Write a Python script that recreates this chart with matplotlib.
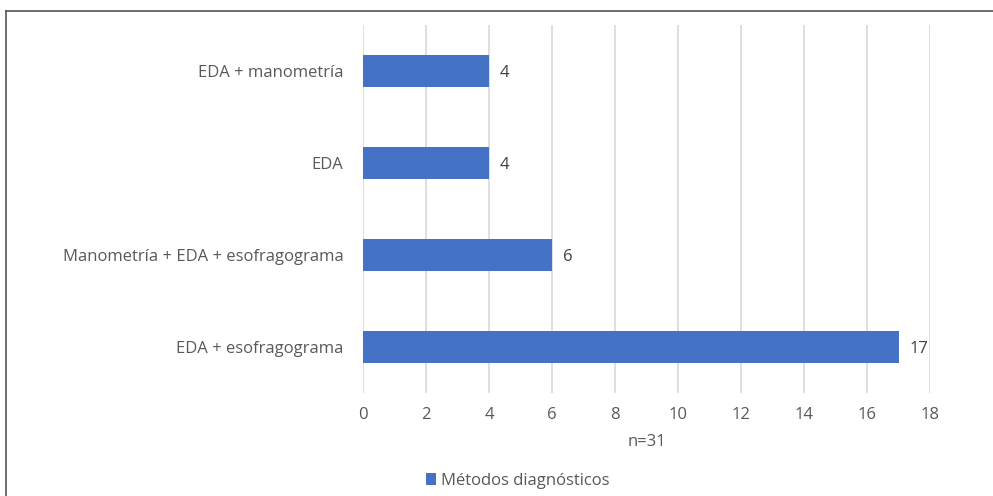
import matplotlib.pyplot as plt
from matplotlib.lines import Line2D

# diagnostic methods used (n=31)
metodos = ["EDA + esofragograma", "Manometría + EDA + esofragograma", "EDA", "EDA + manometría"]
pacientes = [17, 6, 4, 4]
xticks = list(range(0, 20, 2))

plt.rcParams['font.family'] = ['Open Sans', 'DejaVu Sans']
gris = '#595959'
fs = 12

fig = plt.figure(figsize=(9.93, 4.96), dpi=100)
ax = fig.add_axes([0.3656, 0.2077, 0.571, 0.742])

y = range(len(metodos))
barras = ax.barh(y, pacientes, height=0.35, color='#4472C4', label='Métodos diagnósticos', zorder=3)
for i, v in enumerate(pacientes):
    ax.text(v + 0.35, i - 0.02, str(v), va='center', ha='left', fontsize=fs, color='#404040')

ax.set_xlim(0, 18)
ax.set_ylim(-0.5, len(metodos) - 0.5)
ax.set_xticks(xticks)
ax.set_yticks(list(y))
ax.set_yticklabels(metodos)
ax.tick_params(axis='both', length=0, labelsize=fs, colors=gris)
ax.tick_params(axis='y', pad=14)
ax.tick_params(axis='x', pad=10)
ax.grid(axis='x', color='#D9D9D9', linewidth=1.2, zorder=0)
for s in ax.spines.values():
    s.set_visible(False)

ax.set_xlabel('n=31', fontsize=fs, color=gris, labelpad=8)

fig.legend(handles=[barras], loc='center left', bbox_to_anchor=(0.414, 0.03),
           frameon=False, fontsize=fs, labelcolor=gris,
           handlelength=0.6, handleheight=0.7, handletextpad=0.3)

# frame lines at top and left
fig.add_artist(Line2D([0.0065, 1.0], [0.977, 0.977], color='#555555', linewidth=1.2))
fig.add_artist(Line2D([0.0065, 0.0065], [0.0, 0.977], color='#555555', linewidth=1.2))

fig.savefig('out.png', dpi=100)
